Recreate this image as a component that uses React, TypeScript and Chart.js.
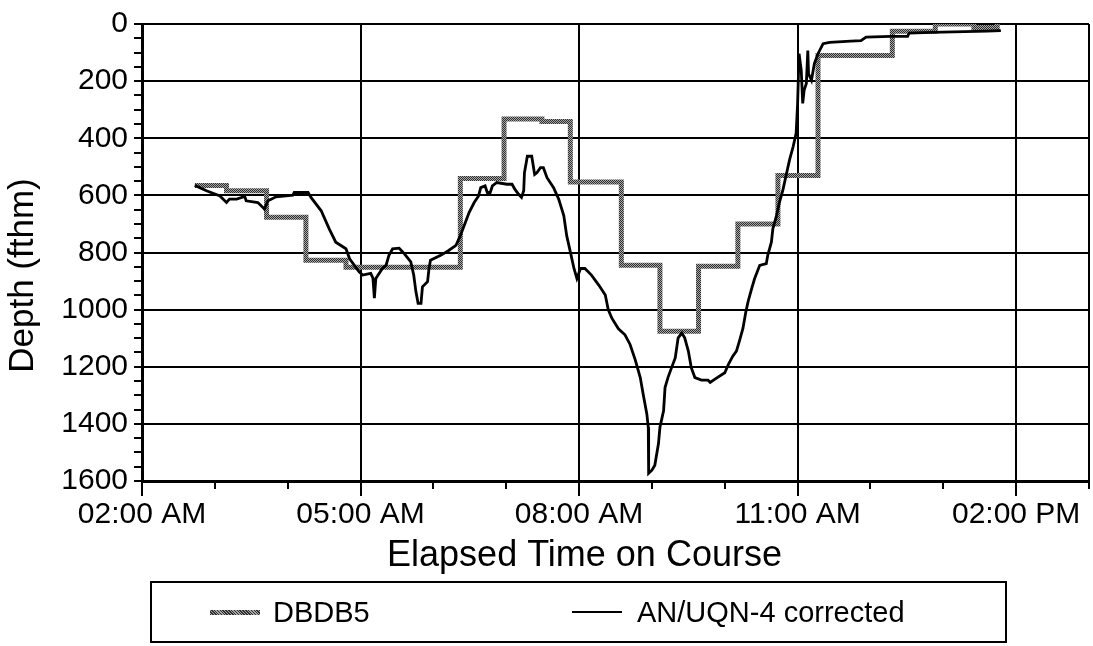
import React, { useEffect, useRef } from "react";
import { Chart, registerables } from "chart.js";

Chart.register(...registerables);

// ---- data (hours of day on x, depth in fathoms on y) ----
const xTickLabels = ["02:00 AM", "05:00 AM", "08:00 AM", "11:00 AM", "02:00 PM"];
const xLabelHours = [2, 5, 8, 11, 14];
const yLabelStep = 200;
const xTitle = "Elapsed Time on Course";
const yTitle = "Depth (fthm)";

const seriesNames = ["DBDB5", "AN/UQN-4 corrected"];

const dbdb5Hours = [2.725, 3.16, 3.71, 4.25, 4.8, 6.37, 6.97, 7.49, 7.88, 8.58, 9.11, 9.64, 10.18, 10.73, 11.28, 12.3, 12.89, 13.42, 13.74, 13.76];
const dbdb5Depth = [565, 584, 677, 827, 852, 541, 333, 341, 553, 845, 1076, 848, 700, 530, 110, 25, 0, 12, 0, 0];

const uqnHours = [
  2.725, 2.885, 3.07, 3.16, 3.2, 3.3, 3.41, 3.43, 3.59, 3.66, 3.68, 3.73, 3.84, 4.07, 4.09, 4.28, 4.32, 4.46, 4.57, 4.66,
  4.8, 4.85, 4.98, 5.03, 5.14, 5.17, 5.19, 5.21, 5.3, 5.35, 5.39, 5.44, 5.53, 5.6, 5.69, 5.73, 5.76, 5.79, 5.83, 5.85,
  5.92, 5.94, 5.96, 6.1, 6.21, 6.31, 6.37, 6.44, 6.49, 6.56, 6.62, 6.65, 6.71, 6.74, 6.78, 6.81, 6.87, 7.01, 7.08, 7.12,
  7.17, 7.21, 7.24, 7.25, 7.29, 7.35, 7.39, 7.42, 7.47, 7.51, 7.56, 7.65, 7.72, 7.79, 7.83, 7.88, 7.93, 7.97, 8.02, 8.08,
  8.17, 8.27, 8.36, 8.4, 8.45, 8.54, 8.63, 8.7, 8.77, 8.84, 8.88, 8.93, 8.95, 8.955, 9.0, 9.04, 9.09, 9.11, 9.16, 9.18,
  9.22, 9.27, 9.32, 9.36, 9.41, 9.45, 9.5, 9.54, 9.59, 9.68, 9.77, 9.8, 9.86, 10.0, 10.05, 10.11, 10.16, 10.2, 10.25, 10.29,
  10.32, 10.37, 10.41, 10.48, 10.57, 10.59, 10.64, 10.66, 10.71, 10.75, 10.8, 10.84, 10.89, 10.94, 10.98, 11.0, 11.02, 11.05, 11.07, 11.09,
  11.12, 11.14, 11.15, 11.19, 11.23, 11.28, 11.35, 11.44, 11.73, 11.87, 11.94, 12.28, 12.51, 12.53, 12.83, 13.6, 13.79,
];
const uqnDepth = [
  565, 584, 602, 625, 613, 613, 604, 619, 625, 642, 648, 619, 605, 599, 590, 590, 607, 654, 717, 764,
  787, 822, 868, 879, 873, 890, 960, 891, 856, 845, 810, 787, 785, 804, 833, 879, 937, 978, 978, 920,
  902, 856, 827, 810, 793, 775, 741, 694, 660, 625, 602, 573, 567, 590, 590, 567, 555, 561, 561, 579,
  596, 607, 584, 521, 463, 463, 527, 521, 503, 503, 538, 573, 613, 671, 741, 798, 856, 891, 856, 856,
  879, 914, 949, 1000, 1030, 1067, 1088, 1122, 1175, 1238, 1296, 1365, 1412, 1573, 1562, 1545, 1469, 1412, 1354, 1273,
  1238, 1203, 1169, 1099, 1082, 1099, 1145, 1203, 1238, 1247, 1247, 1255, 1244, 1221, 1192, 1163, 1145, 1111, 1065, 1007,
  972, 926, 891, 845, 839, 810, 764, 717, 671, 625, 579, 532, 475, 428, 382, 278, 104, 162, 278, 231,
  208, 93, 174, 197, 139, 104, 69, 64, 60, 58, 46, 43, 43, 32, 29, 25, 23,
];

const FONT = "'Liberation Sans', Arial, Helvetica, sans-serif";

function makeHatch(): CanvasPattern | string {
  const c = document.createElement("canvas");
  c.width = 2;
  c.height = 2;
  const g = c.getContext("2d");
  if (!g) return "#888";
  g.fillStyle = "#a8a8a8";
  g.fillRect(0, 0, 2, 2);
  g.fillStyle = "#2e2e2e";
  g.fillRect(0, 0, 1, 1);
  g.fillRect(1, 1, 1, 1);
  const p = g.createPattern(c, "repeat");
  return p || "#888";
}

// extra-long tick marks at the labelled hours + axis titles
const axisDecorPlugin = {
  id: "axisDecor",
  afterDraw(chart: any) {
    const xs = chart.scales.x;
    const { ctx, chartArea } = chart;
    ctx.save();
    ctx.strokeStyle = "#000";
    ctx.lineWidth = 2;
    xLabelHours.forEach((h) => {
      const px = Math.round(xs.getPixelForValue(h));
      ctx.beginPath();
      ctx.moveTo(px, chartArea.bottom);
      ctx.lineTo(px, chartArea.bottom + 15);
      ctx.stroke();
    });
    ctx.fillStyle = "#000";
    ctx.font = `36px ${FONT}`;
    ctx.textAlign = "center";
    ctx.textBaseline = "middle";
    const cx = (chartArea.left + chartArea.right) / 2;
    ctx.fillText(xTitle, cx - 31, chartArea.bottom + 75);
    const cy = (chartArea.top + chartArea.bottom) / 2;
    ctx.font = `35px ${FONT}`;
    ctx.translate(23, cy + 23);
    ctx.rotate(-Math.PI / 2);
    ctx.fillText(yTitle, 0, 0);
    ctx.restore();
  },
};

export default function App() {
  const canvasRef = useRef<HTMLCanvasElement | null>(null);

  useEffect(() => {
    const canvas = canvasRef.current;
    if (!canvas) return;
    const hatch = makeHatch();
    const chart = new Chart(canvas, {
      type: "line",
      data: {
        datasets: [
          {
            label: seriesNames[0],
            data: dbdb5Hours.map((h, i) => ({ x: h, y: dbdb5Depth[i] })),
            borderColor: hatch as any,
            borderWidth: 5,
            stepped: "before",
            pointRadius: 0,
            fill: false,
            order: 2,
          },
          {
            label: seriesNames[1],
            data: uqnHours.map((h, i) => ({ x: h, y: uqnDepth[i] })),
            borderColor: "#000",
            borderWidth: 2.8,
            pointRadius: 0,
            tension: 0,
            fill: false,
            order: 1,
          },
        ],
      },
      options: {
        animation: false,
        responsive: false,
        devicePixelRatio: 1,
        layout: { padding: { top: 20, right: 0, bottom: 70, left: 0 } },
        plugins: {
          legend: { display: false },
          tooltip: { enabled: false },
        },
        scales: {
          x: {
            type: "linear",
            min: 2,
            max: 15,
            afterFit: (s: any) => {
              s.height = 95;
            },
            ticks: {
              stepSize: 1,
              autoSkip: false,
              maxRotation: 0,
              padding: 8,
              color: "#000",
              font: { family: FONT, size: 30 },
              callback: (v: any) => {
                const i = xLabelHours.indexOf(Number(v));
                return i >= 0 ? xTickLabels[i] : "";
              },
            },
            grid: {
              color: (c: any) =>
                c.tick && (xLabelHours.includes(c.tick.value) || c.tick.value === 15) ? "#000" : "rgba(0,0,0,0)",
              tickColor: "#000",
              lineWidth: 2,
              tickLength: 8,
            },
            border: { display: true, color: "#000", width: 3 },
            title: { display: false, text: xTitle },
          },
          y: {
            type: "linear",
            reverse: true,
            min: 0,
            max: 1600,
            afterFit: (s: any) => {
              s.width = 142;
            },
            ticks: {
              stepSize: 50,
              autoSkip: false,
              padding: 6,
              color: "#000",
              font: { family: FONT, size: 30 },
              callback: (v: any) => (Number(v) % yLabelStep === 0 ? String(v) : ""),
            },
            grid: {
              color: (c: any) => (c.tick && c.tick.value % yLabelStep === 0 ? "#000" : "rgba(0,0,0,0)"),
              tickColor: "#000",
              lineWidth: 2,
              tickLength: 8,
            },
            border: { display: true, color: "#000", width: 3 },
            title: { display: false, text: yTitle },
          },
        },
      },
      plugins: [axisDecorPlugin],
    });
    return () => chart.destroy();
  }, []);

  const legendText: React.CSSProperties = {
    fontFamily: FONT,
    fontSize: 29,
    color: "#000",
    whiteSpace: "nowrap",
    lineHeight: "34px",
  };

  return (
    <div style={{ position: "absolute", left: 0, top: 0, width: 1093, height: 646, background: "#fff", overflow: "hidden" }}>
      <canvas ref={canvasRef} width={1097} height={646} style={{ position: "absolute", left: 0, top: 0 }} />
      <div
        style={{
          position: "absolute",
          left: 150,
          top: 581,
          width: 853,
          height: 58,
          border: "2px solid #000",
          boxSizing: "content-box",
        }}
      >
        <div style={{ position: "absolute", left: 58, top: 27, width: 50, height: 5, background: "repeating-linear-gradient(45deg, #2e2e2e 0 1px, #a8a8a8 1px 2px)" }} />
        <div style={{ ...legendText, position: "absolute", left: 121, top: 12 }}>{seriesNames[0]}</div>
        <div style={{ position: "absolute", left: 420, top: 28, width: 50, height: 2, background: "#000" }} />
        <div style={{ ...legendText, position: "absolute", left: 485, top: 12 }}>{seriesNames[1]}</div>
      </div>
    </div>
  );
}
